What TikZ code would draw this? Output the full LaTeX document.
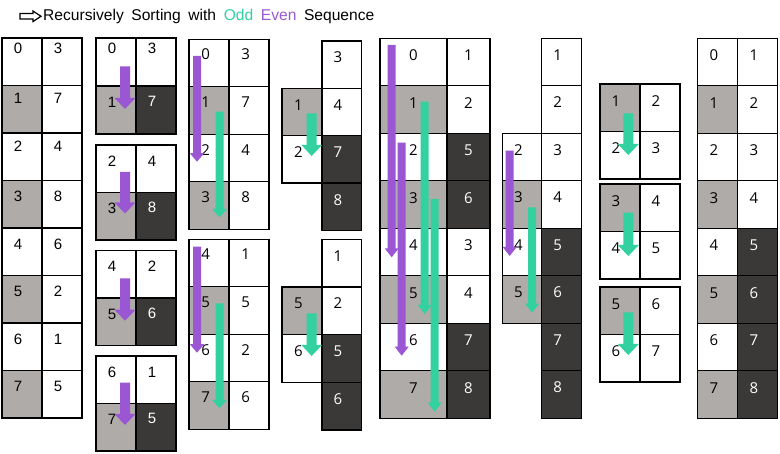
\documentclass[tikz,border=0pt]{standalone}
\usepackage{fontspec}
\setmainfont{Liberation Sans}
\newfontfamily\segoe{Open Sans}
\definecolor{cgray}{RGB}{175,171,169}
\definecolor{cdark}{RGB}{59,56,56}
\definecolor{cgreen}{RGB}{51,209,160}
\definecolor{cpurple}{RGB}{155,87,211}
\tikzset{
  cellbox/.style={draw=black, line width=1.4pt, inner sep=0pt, outer sep=0pt, anchor=north west},
  W/.style={cellbox, fill=white},
  G/.style={cellbox, fill=cgray},
  D/.style={cellbox, fill=cdark},
  Wt/.style={text=black},
  Gt/.style={text=black},
  Dt/.style={text=white},
  numtxt/.style={inner sep=0pt, anchor=center, font=\cellfont\fontsize{15}{15}\selectfont},
  titletxt/.style={inner sep=0pt, anchor=west, font=\fontsize{15.6}{16}\selectfont},
  outlinearrow/.style={draw=black, line width=1.2pt, line join=miter}
}
\def\cellfont{\rmfamily}
% #1 name, #2 x, #3 y, #4 w, #5 h, #6 W/G/D, #7 text, #8 dx, #9 dy
\newcommand\cellnode[9]{%
  \node[#6, minimum width=#4pt, minimum height=#5pt] (#1) at (#2,#3) {};
  \node[numtxt, #6t] (#1t) at ([shift={(#8pt,-#9pt)}]#1.north west) {#7};
}
% #1 colour, #2 x, #3 top, #4 tip, #5 shaft half, #6 head half, #7 head length
\newcommand\blockarrow[7]{%
  \fill[#1] ({#2-#5},#3) -- ({#2+#5},#3) -- ({#2+#5},{#4-#7}) -- ({#2+#6},{#4-#7})
    -- (#2,#4) -- ({#2-#6},{#4-#7}) -- ({#2-#5},{#4-#7}) -- cycle;
}
\begin{document}
\begin{tikzpicture}[x=1pt,y=-1pt]
\useasboundingbox (0,0) rectangle (780,454);
\fill[white] (0,0) rectangle (780,454);

% title
\draw[outlinearrow] (20,13.5) -- (33,13.5) -- (33,11) -- (41,16.3) -- (33,21.6) -- (33,19) -- (20,19) -- cycle;
\node[titletxt] (title) at (43,16.5) {\spaceskip=7.6pt\relax Recursively Sorting with \textcolor{cgreen}{Odd} \textcolor{cpurple}{Even} Sequence};

% ---------- table 1 ----------
\cellnode{aL0}{2}{38}{40}{47.5}{W}{0}{16}{10.5}
\cellnode{aR0}{42}{38}{40}{47.5}{W}{3}{16}{10.5}
\cellnode{aL1}{2}{85.5}{40}{47.5}{G}{1}{16}{12.5}
\cellnode{aR1}{42}{85.5}{40}{47.5}{W}{7}{16}{12.5}
\cellnode{aL2}{2}{133}{40}{47.5}{W}{2}{16}{13.5}
\cellnode{aR2}{42}{133}{40}{47.5}{W}{4}{16}{13.5}
\cellnode{aL3}{2}{180.5}{40}{47.5}{G}{3}{16}{15.5}
\cellnode{aR3}{42}{180.5}{40}{47.5}{W}{8}{16}{15.5}
\cellnode{aL4}{2}{228}{40}{47.5}{W}{4}{16}{16}
\cellnode{aR4}{42}{228}{40}{47.5}{W}{6}{16}{16}
\cellnode{aL5}{2}{275.5}{40}{47.5}{G}{5}{16}{16}
\cellnode{aR5}{42}{275.5}{40}{47.5}{W}{2}{16}{16}
\cellnode{aL6}{2}{323}{40}{47.5}{W}{6}{16}{16}
\cellnode{aR6}{42}{323}{40}{47.5}{W}{1}{16}{16}
\cellnode{aL7}{2}{370.5}{40}{47.5}{G}{7}{16}{16}
\cellnode{aR7}{42}{370.5}{40}{47.5}{W}{5}{16}{16}

% ---------- table 2 ----------
\cellnode{bA1}{96}{38}{40}{48}{W}{0}{16}{10.5}
\cellnode{bA2}{136}{38}{40}{48}{W}{3}{16}{10.5}
\cellnode{bA3}{96}{86}{40}{48}{G}{1}{16}{16}
\cellnode{bA4}{136}{86}{40}{48}{D}{7}{16}{15}
\cellnode{bB1}{96}{145}{40}{47.5}{W}{2}{16}{16}
\cellnode{bB2}{136}{145}{40}{47.5}{W}{4}{16}{16}
\cellnode{bB3}{96}{192.5}{40}{47.5}{G}{3}{16}{16}
\cellnode{bB4}{136}{192.5}{40}{47.5}{D}{8}{16}{15}
\cellnode{bC1}{96}{250.5}{40}{47.5}{W}{4}{16}{16}
\cellnode{bC2}{136}{250.5}{40}{47.5}{W}{2}{16}{16}
\cellnode{bC3}{96}{298}{40}{47.5}{G}{5}{16}{16}
\cellnode{bC4}{136}{298}{40}{47.5}{D}{6}{16}{15}
\cellnode{bD1}{96}{356}{40}{47.5}{W}{6}{16}{16}
\cellnode{bD2}{136}{356}{40}{47.5}{W}{1}{16}{16}
\cellnode{bD3}{96}{403.5}{40}{47.5}{G}{7}{16}{16}
\cellnode{bD4}{136}{403.5}{40}{47.5}{D}{5}{16}{15}
\blockarrow{cpurple}{125}{66.5}{109}{5}{10.5}{11}
\blockarrow{cpurple}{125}{172}{213.5}{5}{10.5}{11}
\blockarrow{cpurple}{125}{278.5}{320.7}{5}{10.5}{11}
\blockarrow{cpurple}{125}{382.7}{425}{5}{10.5}{11}

\begin{scope}
\def\cellfont{\segoe}
% ---------- table 3 ----------
\cellnode{cA0}{189}{39.3}{40}{47.5}{W}{0}{16.7}{15}
\cellnode{cB0}{229}{39.3}{40}{47.5}{W}{3}{16.7}{15}
\cellnode{cA1}{189}{86.8}{40}{47.5}{G}{1}{16.7}{15.5}
\cellnode{cB1}{229}{86.8}{40}{47.5}{W}{7}{16.7}{15.5}
\cellnode{cA2}{189}{134.3}{40}{47.5}{W}{2}{16.7}{15.5}
\cellnode{cB2}{229}{134.3}{40}{47.5}{W}{4}{16.7}{15.5}
\cellnode{cA3}{189}{181.8}{40}{47.5}{G}{3}{16.7}{15.5}
\cellnode{cB3}{229}{181.8}{40}{47.5}{W}{8}{16.7}{15.5}
\cellnode{cA4}{189}{239.3}{40}{47.5}{W}{4}{16.7}{15}
\cellnode{cB4}{229}{239.3}{40}{47.5}{W}{1}{16.7}{15}
\cellnode{cA5}{189}{286.8}{40}{47.5}{G}{5}{16.7}{15.5}
\cellnode{cB5}{229}{286.8}{40}{47.5}{W}{5}{16.7}{15.5}
\cellnode{cA6}{189}{334.3}{40}{47.5}{W}{6}{16.7}{15.5}
\cellnode{cB6}{229}{334.3}{40}{47.5}{W}{2}{16.7}{15.5}
\cellnode{cA7}{189}{381.8}{40}{47.5}{G}{7}{16.7}{15.5}
\cellnode{cB7}{229}{381.8}{40}{47.5}{W}{6}{16.7}{15.5}
\blockarrow{cpurple}{197}{56}{161.7}{4}{7.2}{8.5}
\blockarrow{cgreen}{219.5}{111.7}{217.3}{4}{7.5}{8.5}
\blockarrow{cpurple}{197}{246.7}{352.7}{4}{7.2}{8.5}
\blockarrow{cgreen}{219.5}{303.3}{408.3}{4}{7.5}{8.5}

% ---------- table 4 ----------
\cellnode{dR0}{322}{41}{39.5}{47.4}{W}{3}{16}{16.5}
\cellnode{dR1}{322}{88.4}{39.5}{47.4}{W}{4}{16}{16.5}
\cellnode{dR2}{322}{135.8}{39.5}{47.4}{D}{7}{16}{16.5}
\cellnode{dR3}{322}{183.2}{39.5}{47.4}{D}{8}{16}{16.5}
\cellnode{dL1}{282}{88.4}{40}{47.4}{G}{1}{16.5}{16.5}
\cellnode{dL2}{282}{135.8}{40}{47.4}{W}{2}{16.5}{16.5}
\blockarrow{cgreen}{311.7}{113.3}{156}{5}{10.3}{11}
\cellnode{dR4}{322}{239.3}{39.5}{47.7}{W}{1}{16}{16.5}
\cellnode{dR5}{322}{287}{39.5}{47.7}{W}{2}{16}{16.5}
\cellnode{dR6}{322}{334.7}{39.5}{47.7}{D}{5}{16}{16.5}
\cellnode{dR7}{322}{382.4}{39.5}{47.7}{D}{6}{16}{16.5}
\cellnode{dL5}{282}{287}{40}{47.7}{G}{5}{16.5}{16.5}
\cellnode{dL6}{282}{334.7}{40}{47.7}{W}{6}{16.5}{16.5}
\blockarrow{cgreen}{311.7}{313.3}{356}{5}{10.3}{11}

% ---------- table 5 ----------
\cellnode{eL0}{380}{38.3}{67}{47.5}{W}{0}{33.5}{17}
\cellnode{eR0}{447}{38.3}{43}{47.5}{W}{1}{21.5}{17}
\cellnode{eL1}{380}{85.8}{67}{47.5}{G}{1}{33.5}{17}
\cellnode{eR1}{447}{85.8}{43}{47.5}{W}{2}{21.5}{17}
\cellnode{eL2}{380}{133.3}{67}{47.5}{W}{2}{33.5}{17}
\cellnode{eR2}{447}{133.3}{43}{47.5}{D}{5}{21.5}{17}
\cellnode{eL3}{380}{180.8}{67}{47.5}{G}{3}{33.5}{17}
\cellnode{eR3}{447}{180.8}{43}{47.5}{D}{6}{21.5}{17}
\cellnode{eL4}{380}{228.3}{67}{47.5}{W}{4}{33.5}{17}
\cellnode{eR4}{447}{228.3}{43}{47.5}{W}{3}{21.5}{17}
\cellnode{eL5}{380}{275.8}{67}{47.5}{G}{5}{33.5}{17}
\cellnode{eR5}{447}{275.8}{43}{47.5}{W}{4}{21.5}{17}
\cellnode{eL6}{380}{323.3}{67}{47.5}{W}{6}{33.5}{17}
\cellnode{eR6}{447}{323.3}{43}{47.5}{D}{7}{21.5}{17}
\cellnode{eL7}{380}{370.8}{67}{47.5}{G}{7}{33.5}{17}
\cellnode{eR7}{447}{370.8}{43}{47.5}{D}{8}{21.5}{17}
\blockarrow{cpurple}{391.7}{45}{257.3}{4}{7}{9}
\blockarrow{cpurple}{401.7}{142.7}{355.7}{4}{7}{9}
\blockarrow{cgreen}{424.7}{101.7}{314}{4}{7}{9}
\blockarrow{cgreen}{434.7}{199}{411.7}{4}{7}{9}

% ---------- table 6 ----------
\cellnode{fR0}{541.7}{38.3}{40}{47.5}{W}{1}{16}{16.7}
\cellnode{fR1}{541.7}{85.8}{40}{47.5}{W}{2}{16}{16.7}
\cellnode{fR2}{541.7}{133.3}{40}{47.5}{W}{3}{16}{16.7}
\cellnode{fR3}{541.7}{180.8}{40}{47.5}{W}{4}{16}{16.7}
\cellnode{fR4}{541.7}{228.3}{40}{47.5}{D}{5}{16}{16.7}
\cellnode{fR5}{541.7}{275.8}{40}{47.5}{D}{6}{16}{16.7}
\cellnode{fR6}{541.7}{323.3}{40}{47.5}{D}{7}{16}{16.7}
\cellnode{fR7}{541.7}{370.8}{40}{47.5}{D}{8}{16}{16.7}
\cellnode{fL2}{502.3}{133.3}{39.4}{47.5}{W}{2}{16}{16.7}
\cellnode{fL3}{502.3}{180.8}{39.4}{47.5}{G}{3}{16}{16.7}
\cellnode{fL4}{502.3}{228.3}{39.4}{47.5}{W}{4}{16}{16.7}
\cellnode{fL5}{502.3}{275.8}{39.4}{47.5}{G}{5}{16}{16.7}
\blockarrow{cpurple}{509.7}{150.7}{256}{4}{7}{9}
\blockarrow{cgreen}{532}{207.3}{312.7}{4}{7}{9}

% ---------- table 7 ----------
\cellnode{gA1}{600}{84}{40}{47.5}{G}{1}{16}{16.8}
\cellnode{gA2}{640}{84}{40}{47.5}{W}{2}{16}{16.8}
\cellnode{gA3}{600}{131.5}{40}{47.5}{W}{2}{16}{16.8}
\cellnode{gA4}{640}{131.5}{40}{47.5}{W}{3}{16}{16.8}
\cellnode{gB1}{600}{184}{40}{47.5}{G}{3}{16}{16.8}
\cellnode{gB2}{640}{184}{40}{47.5}{W}{4}{16}{16.8}
\cellnode{gB3}{600}{231.5}{40}{47.5}{W}{4}{16}{16.8}
\cellnode{gB4}{640}{231.5}{40}{47.5}{W}{5}{16}{16.8}
\cellnode{gC1}{600}{287}{40}{47.5}{G}{5}{16}{16.8}
\cellnode{gC2}{640}{287}{40}{47.5}{W}{6}{16}{16.8}
\cellnode{gC3}{600}{334.5}{40}{47.5}{W}{6}{16}{16.8}
\cellnode{gC4}{640}{334.5}{40}{47.5}{W}{7}{16}{16.8}
\blockarrow{cgreen}{628.3}{113.3}{155}{5}{10.5}{11}
\blockarrow{cgreen}{628.3}{212.7}{256}{5}{10.5}{11}
\blockarrow{cgreen}{628.3}{312.3}{355}{5}{10.5}{11}

% ---------- table 8 ----------
\cellnode{hL0}{697.7}{38.3}{40}{47.5}{W}{0}{16.3}{17}
\cellnode{hR0}{737.7}{38.3}{40}{47.5}{W}{1}{16.3}{17}
\cellnode{hL1}{697.7}{85.8}{40}{47.5}{G}{1}{16.3}{17}
\cellnode{hR1}{737.7}{85.8}{40}{47.5}{W}{2}{16.3}{17}
\cellnode{hL2}{697.7}{133.3}{40}{47.5}{W}{2}{16.3}{17}
\cellnode{hR2}{737.7}{133.3}{40}{47.5}{W}{3}{16.3}{17}
\cellnode{hL3}{697.7}{180.8}{40}{47.5}{G}{3}{16.3}{17}
\cellnode{hR3}{737.7}{180.8}{40}{47.5}{W}{4}{16.3}{17}
\cellnode{hL4}{697.7}{228.3}{40}{47.5}{W}{4}{16.3}{17}
\cellnode{hR4}{737.7}{228.3}{40}{47.5}{D}{5}{16.3}{17}
\cellnode{hL5}{697.7}{275.8}{40}{47.5}{G}{5}{16.3}{17}
\cellnode{hR5}{737.7}{275.8}{40}{47.5}{D}{6}{16.3}{17}
\cellnode{hL6}{697.7}{323.3}{40}{47.5}{W}{6}{16.3}{17}
\cellnode{hR6}{737.7}{323.3}{40}{47.5}{D}{7}{16.3}{17}
\cellnode{hL7}{697.7}{370.8}{40}{47.5}{G}{7}{16.3}{17}
\cellnode{hR7}{737.7}{370.8}{40}{47.5}{D}{8}{16.3}{17}
\end{scope}
\end{tikzpicture}
\end{document}
